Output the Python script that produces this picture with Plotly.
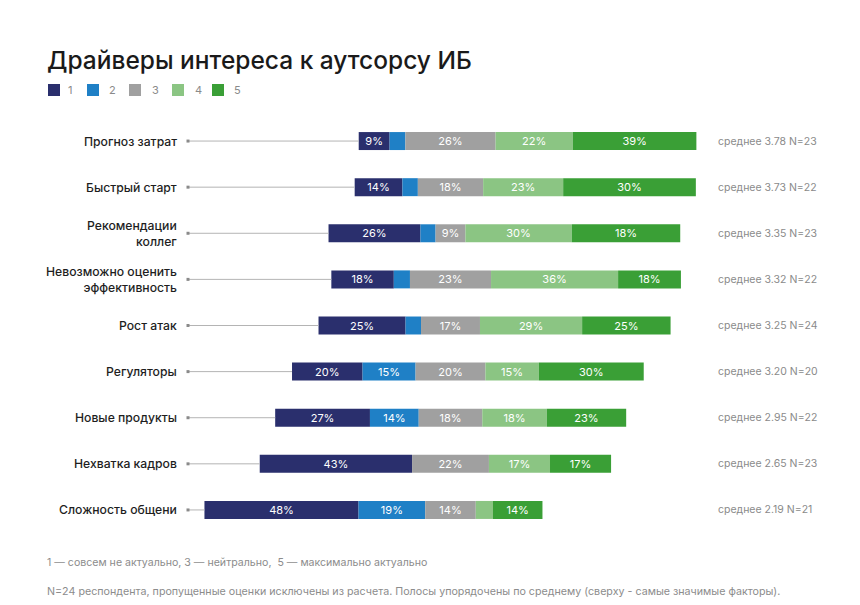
import plotly.graph_objects as go

# ---------------- data ----------------
categories = ["Прогноз затрат", "Быстрый старт", "Рекомендации<br>коллег",
              "Невозможно оценить<br>эффективность", "Рост атак", "Регуляторы",
              "Новые продукты", "Нехватка кадров", "Сложность общени"]
levels = ["1", "2", "3", "4", "5"]

# segment shares (%)
s1 = [8.8, 13.6, 26.2, 17.8, 24.8, 20.1, 27.0, 43.4, 43.9]
s2 = [4.5, 4.4, 4.3, 4.6, 4.4, 15.1, 13.9, 0.0, 19.0]
s3 = [25.7, 18.6, 8.5, 23.1, 16.8, 19.9, 18.1, 21.9, 14.4]
s4 = [22.0, 22.8, 30.3, 36.2, 29.1, 15.2, 18.4, 17.4, 4.9]
s5 = [35.2, 37.8, 30.9, 17.9, 25.2, 29.9, 22.6, 17.4, 14.1]

# labels printed on the segments
lab1 = ["9%", "14%", "26%", "18%", "25%", "20%", "27%", "43%", "48%"]
lab2 = ["", "", "", "", "", "15%", "14%", "", "19%"]
lab3 = ["26%", "18%", "9%", "23%", "17%", "20%", "18%", "22%", "14%"]
lab4 = ["22%", "23%", "30%", "36%", "29%", "15%", "18%", "17%", ""]
lab5 = ["39%", "30%", "18%", "18%", "25%", "30%", "23%", "17%", "14%"]

means = ["3.78", "3.73", "3.35", "3.32", "3.25", "3.20", "2.95", "2.65", "2.19"]
ns = [23, 22, 23, 22, 24, 20, 22, 23, 21]

colors = ["#2a2f6d", "#1f80c6", "#a0a0a0", "#8bc583", "#3a9f36"]

# ---------------- layout constants ----------------
W, H = 860, 605
T, B = 118, 72
PLOT_H = H - T - B
PX = 3.51          # pixels per percent
CENTER = 450.5     # pixel of the neutral midpoint
x_range = [-CENTER / PX, (W - CENTER) / PX]
FONT = "Inter"


def px_x(p):
    return p / W


def px_y(p):
    return (H - B - p) / PLOT_H


series = [s1, s2, s3, s4, s5]
labels = [lab1, lab2, lab3, lab4, lab5]
n = len(categories)
idx = list(range(n))

# diverging start: centered on middle of neutral segment
starts = [-(s1[i] + s2[i] + s3[i] / 2) for i in idx]

fig = go.Figure()

# connector lines from label to bar start
line_x0 = (188 - CENTER) / PX
for i in idx:
    fig.add_trace(go.Scatter(
        x=[line_x0, starts[i]], y=[i, i], mode="lines",
        line=dict(color="#b4b4b4", width=1), showlegend=False, hoverinfo="skip"))
fig.add_trace(go.Scatter(
    x=[line_x0] * n, y=idx, mode="markers",
    marker=dict(symbol="square", size=3, color="#8a8a8a"),
    showlegend=False, hoverinfo="skip"))

cum = starts[:]
for k in range(5):
    fig.add_trace(go.Bar(
        y=idx, x=series[k], base=cum[:], orientation="h",
        name=levels[k], marker=dict(color=colors[k], line=dict(width=0)),
        width=0.39, text=labels[k], textposition="inside",
        insidetextanchor="middle", textangle=0, constraintext="none",
        textfont=dict(color="white", size=11, family=FONT),
        hoverinfo="skip", showlegend=False))
    cum = [cum[i] + series[k][i] for i in idx]

# legend (manual, matching the reference layout)
leg_sq_x = [48, 87, 129, 172, 212]
leg_tx_x = [66, 107, 150, 193, 232]
for k in range(5):
    fig.add_shape(type="rect", xref="paper", yref="paper",
                  x0=px_x(leg_sq_x[k]), x1=px_x(leg_sq_x[k] + 12),
                  y0=px_y(96), y1=px_y(84),
                  fillcolor=colors[k], line=dict(width=0))
    fig.add_annotation(x=px_x(leg_tx_x[k]), xref="paper", y=px_y(90), yref="paper",
                       text=levels[k], showarrow=False, xanchor="left", yanchor="middle",
                       font=dict(size=11, color="#8a8a8a", family=FONT))

# category labels and right-hand stats
for i in idx:
    fig.add_annotation(x=px_x(179), xref="paper", y=i, yref="y",
                       text=categories[i], showarrow=False, xanchor="right",
                       yanchor="middle", align="right",
                       font=dict(size=12.2, color="#1e1e1e", family=FONT, weight=500))
    fig.add_annotation(x=px_x(716), xref="paper", y=i, yref="y",
                       text=f"среднее {means[i]} N={ns[i]}", showarrow=False,
                       xanchor="left", yanchor="middle",
                       font=dict(size=10.5, color="#8a8a8a", family=FONT))

# footnotes
fig.add_annotation(x=px_x(45), xref="paper", y=px_y(562), yref="paper",
                   text="1 — совсем не актуально, 3 — нейтрально,  5 — максимально актуально",
                   showarrow=False, xanchor="left", yanchor="middle",
                   font=dict(size=10.6, color="#8c8c8c", family=FONT))
fig.add_annotation(x=px_x(45), xref="paper", y=px_y(591), yref="paper",
                   text="N=24 респондента, пропущенные оценки исключены из расчета. Полосы упорядочены по среднему (сверху - самые значимые факторы).",
                   showarrow=False, xanchor="left", yanchor="middle",
                   font=dict(size=10.7, color="#8c8c8c", family=FONT))

fig.update_layout(
    width=W, height=H,
    margin=dict(l=0, r=0, t=T, b=B),
    paper_bgcolor="white", plot_bgcolor="white",
    barmode="overlay",
    title=dict(text="Драйверы интереса к аутсорсу ИБ", x=47 / W, xanchor="left",
               y=1 - 60 / H, yanchor="middle",
               font=dict(size=24.5, color="#1a1a1a", family=FONT, weight=500)),
    xaxis=dict(range=x_range, visible=False, fixedrange=True),
    yaxis=dict(range=[n - 0.5, -0.5], visible=False, fixedrange=True),
    showlegend=False,
)

fig.write_html("out.html")
